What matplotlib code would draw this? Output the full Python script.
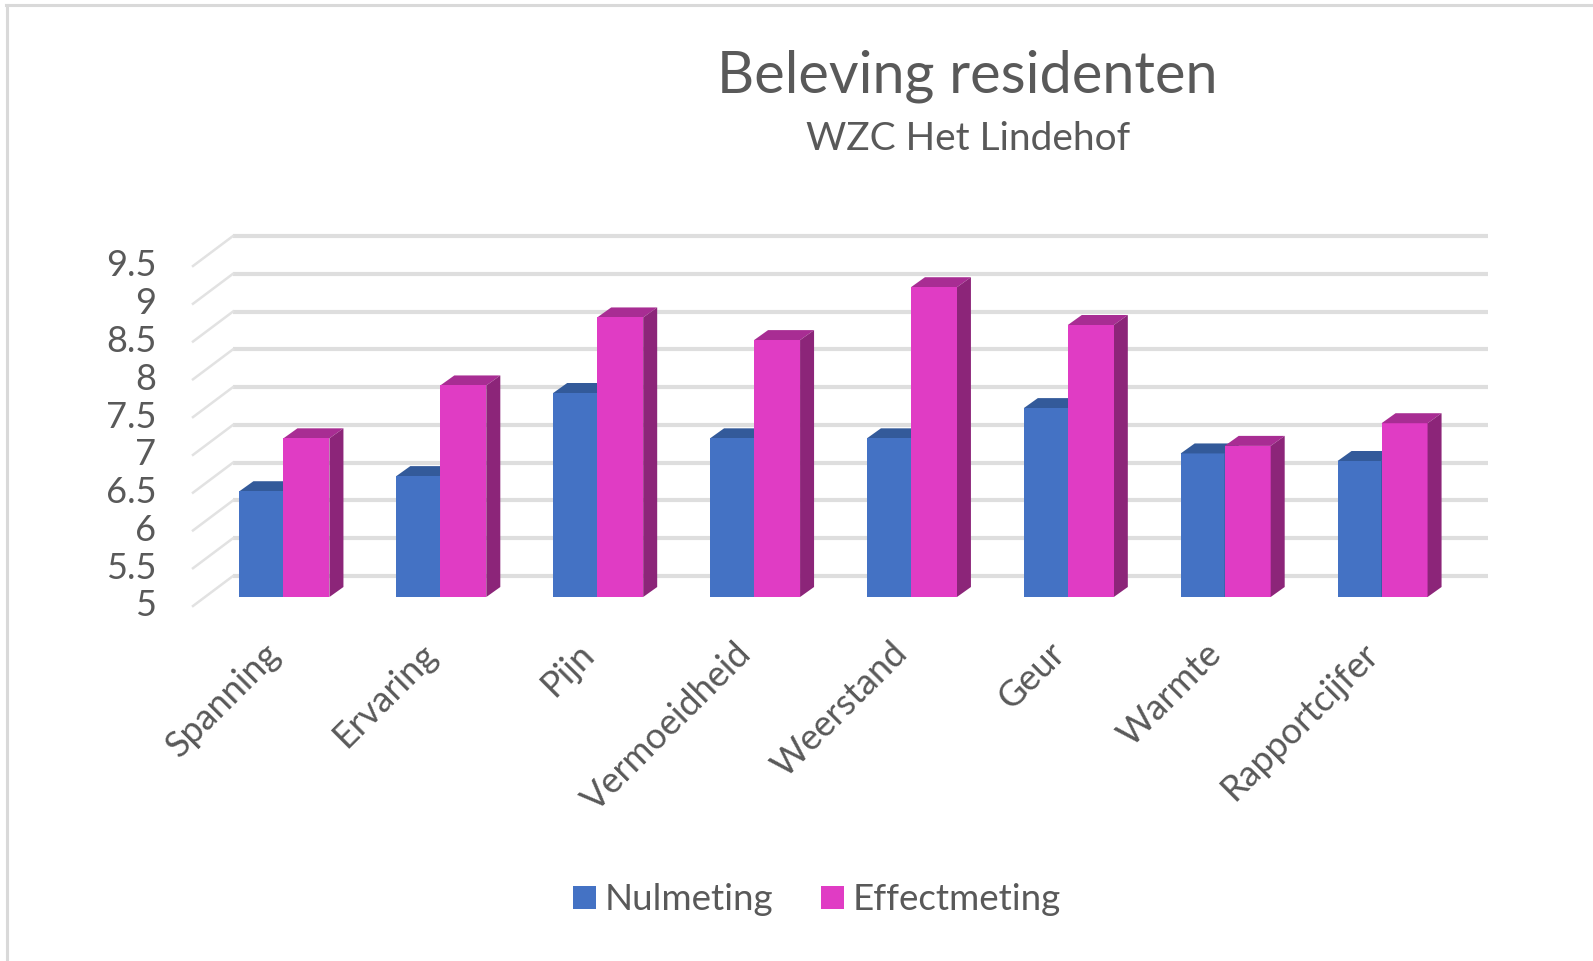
import matplotlib
matplotlib.use('Agg')
import matplotlib.pyplot as plt
from matplotlib.lines import Line2D
from matplotlib.patches import Polygon
from matplotlib.transforms import ScaledTranslation

plt.rcParams['font.family'] = ['Lato', 'DejaVu Sans']

# data
categories = ['Spanning', 'Ervaring', 'Pijn', 'Vermoeidheid', 'Weerstand', 'Geur', 'Warmte', 'Rapportcijfer']
nulmeting = [6.4, 6.6, 7.7, 7.1, 7.1, 7.5, 6.9, 6.8]
effectmeting = [7.1, 7.8, 8.7, 8.4, 9.1, 8.6, 7.0, 7.3]
y_ticks = [5, 5.5, 6, 6.5, 7, 7.5, 8, 8.5, 9, 9.5]
y_labels = ['5', '5.5', '6', '6.5', '7', '7.5', '8', '8.5', '9', '9.5']

W, H = 1593, 961
fig = plt.figure(figsize=(W / 100, H / 100), dpi=100)

# axes = front plane of the fake 3d box, pixels
left, right, bottom, top = 193, 1448, 606, 266
ax = fig.add_axes([left / W, 1 - bottom / H, (right - left) / W, (bottom - top) / H])
ax.set_xlim(0, len(categories))
ax.set_ylim(5, 9.5)
ax.patch.set_visible(False)
for s in ax.spines.values():
    s.set_visible(False)

px_x = (right - left) / len(categories)
px_y = (bottom - top) / 4.5

# depth of the back wall, the bar plane and the bars themselves
wall_dx, wall_dy = 40 / px_x, 30 / px_y
plane_dx, plane_dy = 12 / px_x, 9 / px_y
bar_dx, bar_dy = 14 / px_x, 10 / px_y
w_blue, w_pink = 44 / px_x, 46 / px_x

# gridlines
for v in y_ticks:
    ax.plot([wall_dx, len(categories) + wall_dx], [v + wall_dy, v + wall_dy], color='#dedede', lw=3,
            clip_on=False, zorder=1, solid_capstyle='butt')
    ax.plot([0, wall_dx], [v, v + wall_dy], color='#e2e2e2', lw=1.8, clip_on=False, zorder=1)

base = 5 + plane_dy


def draw_bar(x, width, v, cap, side, z):
    top_y = v + plane_dy
    ax.add_patch(Polygon([(x, top_y), (x + width, top_y), (x + width + bar_dx, top_y + bar_dy), (x + bar_dx, top_y + bar_dy)],
                         facecolor=cap, edgecolor='none', clip_on=False, zorder=z))
    ax.add_patch(Polygon([(x + width, base), (x + width + bar_dx, base + bar_dy), (x + width + bar_dx, top_y + bar_dy), (x + width, top_y)],
                         facecolor=side, edgecolor='none', clip_on=False, zorder=z))


centers = [i + 0.5 + plane_dx for i in range(len(categories))]
for i, c in enumerate(centers):
    draw_bar(c - w_blue, w_blue, nulmeting[i], '#335a9a', '#2a4a80', 2 + i * 0.1)
    draw_bar(c, w_pink, effectmeting[i], '#a82d93', '#8c2579', 3 + i * 0.1)

b1 = ax.bar([c - w_blue for c in centers], [v - 5 for v in nulmeting], width=w_blue, bottom=base, align='edge',
            color='#4472c4', clip_on=False, zorder=2.5, label='Nulmeting')
b2 = ax.bar(centers, [v - 5 for v in effectmeting], width=w_pink, bottom=base, align='edge',
            color='#e03cc4', clip_on=False, zorder=3.5, label='Effectmeting')

ax.set_xlim(0, len(categories))
ax.set_ylim(5, 9.5)

ax.set_yticks(y_ticks)
ax.set_yticklabels(y_labels, fontsize=26, color='#595959')
ax.tick_params(axis='y', length=0, pad=26.5)
lift = ScaledTranslation(0, 2.2 / 72, fig.dpi_scale_trans)
for lab in ax.get_yticklabels():
    lab.set_transform(lab.get_transform() + lift)

ax.set_xticks([i + 0.5 for i in range(len(categories))])
ax.set_xticklabels(categories, fontsize=26, color='#595959', rotation=45, ha='right', rotation_mode='anchor')
ax.tick_params(axis='x', length=0, pad=22)
shift = ScaledTranslation(-6 / 72, 0, fig.dpi_scale_trans)
for lab in ax.get_xticklabels():
    lab.set_transform(lab.get_transform() + shift)

# titles
fig.text(967 / W, 1 - 76 / H, 'Beleving residenten', fontsize=41.5, color='#595959', ha='center', va='center')
fig.text(968 / W, 1 - 139 / H, 'WZC Het Lindehof', fontsize=28, color='#595959', ha='center', va='center')

# legend
fig.legend(handles=[b1, b2], loc='center', bbox_to_anchor=(817 / W, 1 - 900 / H), ncol=2, frameon=False,
           fontsize=26.5, labelcolor='#595959', handlelength=0.62, handleheight=0.62, handletextpad=0.24, columnspacing=1.3)

# chart frame, only top and left are in the crop
fig.add_artist(Line2D([7.5 / W, 7.5 / W], [0, 1 - 4.5 / H], color='#d9d9d9', lw=2.2))
fig.add_artist(Line2D([6 / W, 1], [1 - 4.5 / H, 1 - 4.5 / H], color='#d9d9d9', lw=2.2))

plt.savefig('out.png', dpi=100)
